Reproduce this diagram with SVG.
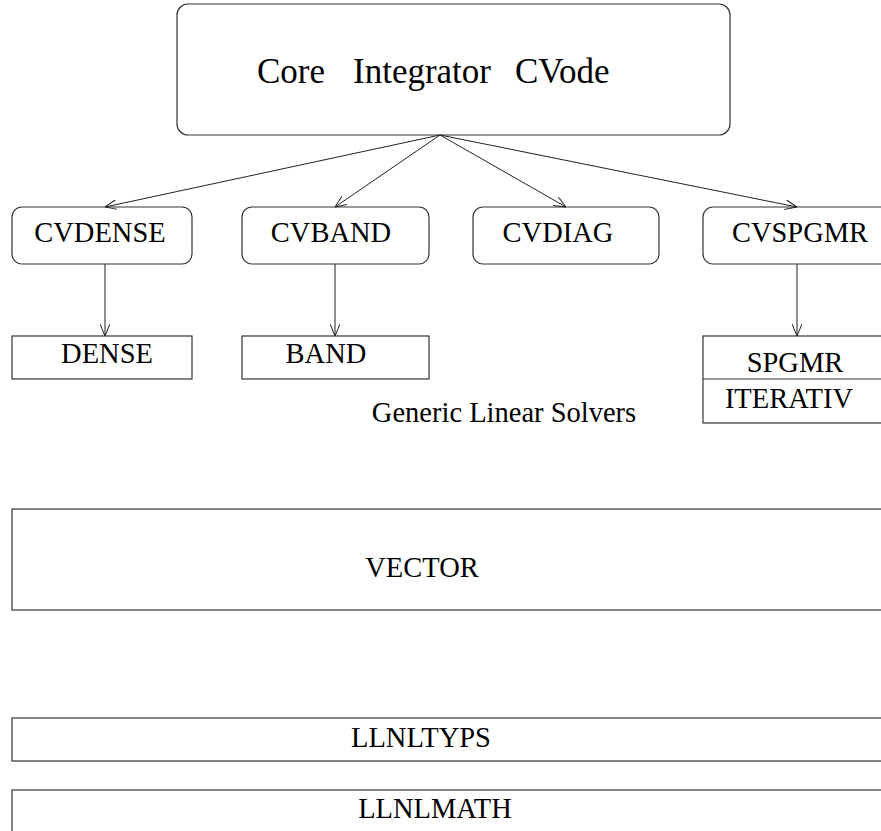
<svg xmlns="http://www.w3.org/2000/svg" width="881" height="831" viewBox="0 0 881 831">
<style>
.box{fill:#fff;stroke:#333;stroke-width:1.2}
.t{font-family:"Liberation Serif","Times New Roman",serif;font-size:28.5px;fill:#000;text-anchor:middle}
.big{font-family:"Liberation Serif","Times New Roman",serif;font-size:35px;fill:#000}
.c{fill:none;stroke:#222;stroke-width:1}
</style>
<defs>
<marker id="ah" viewBox="0 0 12 10" refX="12" refY="5" markerWidth="12" markerHeight="10" markerUnits="userSpaceOnUse" orient="auto">
<path d="M0,0 L12,5 L0,10" fill="none" stroke="#222" stroke-width="1"/>
</marker>
</defs>
<rect width="881" height="831" fill="#fff"/>
<g id="core">
<rect class="box" x="177" y="4" width="553" height="131" rx="11"/>
<text class="big" y="83"><tspan x="257">Core</tspan><tspan x="353">Integrator</tspan><tspan x="515">CVode</tspan></text>
</g>
<g id="cvdense">
<rect class="box" x="12" y="207" width="180" height="57" rx="10"/>
<text class="t" x="100" y="242">CVDENSE</text>
</g>
<g id="cvband">
<rect class="box" x="242" y="207" width="187" height="57" rx="10"/>
<text class="t" x="331" y="242">CVBAND</text>
</g>
<g id="cvdiag">
<rect class="box" x="473" y="207" width="186" height="57" rx="10"/>
<text class="t" x="558" y="242">CVDIAG</text>
</g>
<g id="cvspgmr">
<rect class="box" x="703" y="207" width="200" height="57" rx="10"/>
<text class="t" x="800" y="242">CVSPGMR</text>
</g>
<g id="dense">
<rect class="box" x="12" y="336" width="180" height="43"/>
<text class="t" x="107" y="363">DENSE</text>
</g>
<g id="band">
<rect class="box" x="242" y="336" width="187" height="43"/>
<text class="t" x="326" y="363">BAND</text>
</g>
<g id="spgmr">
<rect class="box" x="703" y="336" width="200" height="87"/>
<line class="box" x1="703" y1="379" x2="903" y2="379"/>
<text class="t" x="795" y="372">SPGMR</text>
<text class="t" x="789" y="408">ITERATIV</text>
</g>
<g id="generic">
<text class="t" x="504" y="422">Generic Linear Solvers</text>
</g>
<g id="vector">
<rect class="box" x="12" y="509" width="900" height="101"/>
<text class="t" x="422" y="577">VECTOR</text>
</g>
<g id="llnltyps">
<rect class="box" x="12" y="718" width="900" height="43"/>
<text class="t" x="421" y="747">LLNLTYPS</text>
</g>
<g id="llnlmath">
<rect class="box" x="12" y="790" width="900" height="60"/>
<text class="t" x="435" y="818">LLNLMATH</text>
</g>
<g id="connectors">
<line class="c" x1="440" y1="135" x2="105" y2="207" marker-end="url(#ah)"/>
<line class="c" x1="440" y1="135" x2="335" y2="207" marker-end="url(#ah)"/>
<line class="c" x1="440" y1="135" x2="566" y2="207" marker-end="url(#ah)"/>
<line class="c" x1="440" y1="135" x2="797" y2="207" marker-end="url(#ah)"/>
<line class="c" x1="105" y1="264" x2="105" y2="336" marker-end="url(#ah)"/>
<line class="c" x1="335" y1="264" x2="335" y2="336" marker-end="url(#ah)"/>
<line class="c" x1="797" y1="264" x2="797" y2="336" marker-end="url(#ah)"/>
</g>
</svg>
